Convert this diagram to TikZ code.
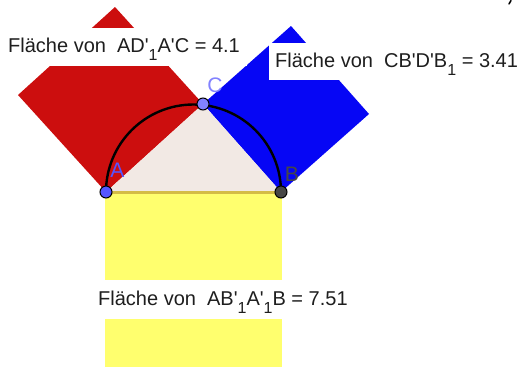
\documentclass[tikz,border=0pt]{standalone}
\usepackage{fontspec}
\newfontfamily\lblfont{Liberation Sans}
\definecolor{sqred}{RGB}{204,14,14}
\definecolor{sqblue}{RGB}{6,6,245}
\definecolor{sqyellow}{RGB}{255,255,110}
\definecolor{edgeyellow}{RGB}{212,188,70}
\definecolor{trifill}{RGB}{242,233,228}
\definecolor{ptA}{RGB}{85,85,255}
\definecolor{ptC}{RGB}{130,130,255}
\definecolor{ptB}{RGB}{70,70,70}
\definecolor{txt}{RGB}{30,30,30}
\newcommand{\subone}{\raisebox{-8pt}{\fontsize{16}{16}\selectfont 1}}
\tikzset{
  lbl/.style={font=\lblfont\fontsize{20}{24}\selectfont, text=txt, inner sep=0pt, anchor=base west},
  ptlbl/.style={font=\lblfont\fontsize{21}{24}\selectfont, inner sep=0pt},
  pt/.style={circle, draw=black, line width=1pt, minimum size=12pt, inner sep=0pt},
  whitebox/.style={fill=white}
}
\begin{document}
\begin{tikzpicture}[x=1pt,y=-1pt]
\useasboundingbox (0,0) rectangle (523,367);
% vertices
\coordinate (A) at (106,192);
\coordinate (B) at (281,192);
\coordinate (C) at (203,104);
\coordinate (Dr) at (18,95);
\coordinate (Ar) at (115,7);
\coordinate (Cb) at (291,26);
\coordinate (Bb) at (369,114);
% squares
\fill[sqred] (A) -- (Dr) -- (Ar) -- (C) -- cycle;
\fill[sqblue] (C) -- (Cb) -- (Bb) -- (B) -- cycle;
\fill[trifill] (A) -- (C) -- (B) -- cycle;
\fill[sqyellow] (104.5,192) rectangle (282,368);
\draw[edgeyellow, line width=3pt] (A) -- (B);
% label boxes
\fill[whitebox] (0,28) rectangle (247,66);
\fill[whitebox] (269,43) rectangle (523,80);
\fill[whitebox] (92,280) rectangle (362,319);
% labels
\node[lbl] (L1) at (8,52) {Fläche von\ \ AD'\subone A'C = 4.1};
\node[lbl] (L2) at (275,67) {Fläche von\ \ CB'D'B\subone\ = 3.41};
\node[lbl] (L3) at (98,305) {Fläche von\ \ AB'\subone A'\subone B\ = 7.51};
% semicircle
\draw[black, line width=2.4pt] (A) arc[start angle=180, end angle=360, radius=87.5];
% small mark top right
\draw[black, line width=1.5pt, line cap=round] (509,4) -- (511,0.5);
% points
\node[pt, fill=ptA] (PA) at (A) {};
\node[pt, fill=ptC] (PC) at (C) {};
\node[pt, fill=ptB] (PB) at (B) {};
% point labels
\node[ptlbl, text=ptA] (LA) at (117.5,170) {A};
\node[ptlbl, text=ptC] (LC) at (215,85) {C};
\node[ptlbl, text=ptB] (LB) at (292,174.5) {B};
\end{tikzpicture}
\end{document}
